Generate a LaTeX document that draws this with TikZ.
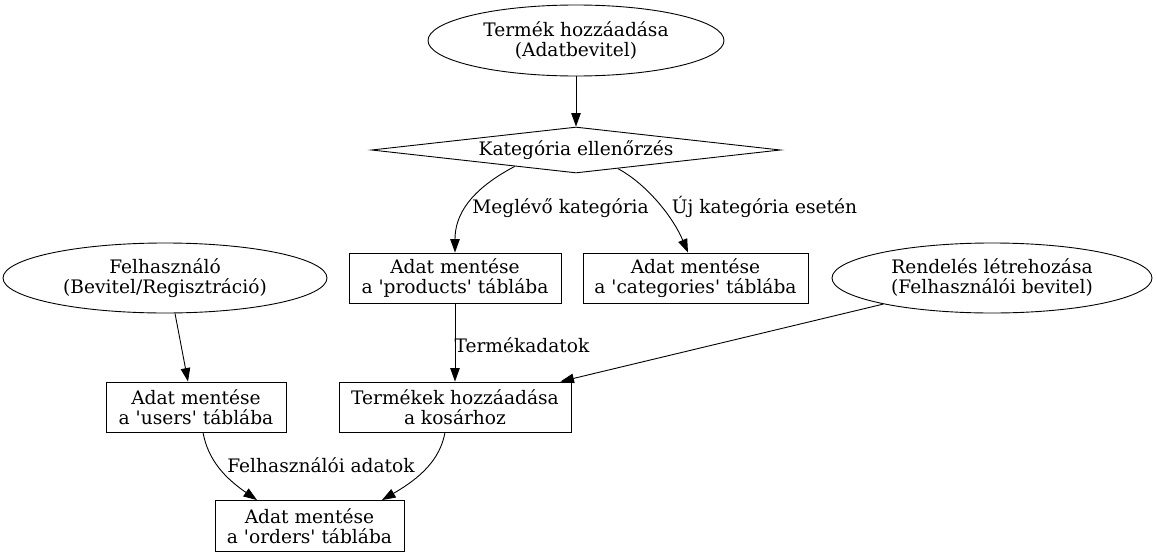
\documentclass[tikz,border=0pt]{standalone}
\usepackage{fontspec}
\setmainfont{DejaVu Serif}
\usetikzlibrary{shapes.geometric,arrows.meta}
\newcommand{\sq}{\textquotesingle}
\begin{document}
\begin{tikzpicture}[x=1pt,y=-1pt,
  txt/.style={font=\fontsize{18.6}{20}\selectfont, align=center, inner sep=0pt},
  ell/.style={txt, draw, ellipse, line width=0.9pt},
  box/.style={txt, draw, rectangle, line width=0.9pt},
  dec/.style={txt, draw, diamond, aspect=9.27, line width=0.9pt},
  lbl/.style={txt, anchor=base},
  arr/.style={-{Triangle[length=13.5pt,width=9.5pt]}, line width=0.9pt}
]
\useasboundingbox (0,0) rectangle (1157,557);

\node[ell, minimum width=296pt, minimum height=71pt] (top) at (576,40.5) {Termék hozzáadása\\(Adatbevitel)};
\node[dec, minimum width=409pt, minimum height=46pt] (dia) at (576,150) {Kategória ellenőrzés};
\node[box, minimum width=212pt, minimum height=50pt] (prod) at (455,278) {Adat mentése\\a \sq products\sq{} táblába};
\node[box, minimum width=225pt, minimum height=50pt] (cat) at (695.5,278) {Adat mentése\\a \sq categories\sq{} táblába};
\node[ell, minimum width=324pt, minimum height=70pt] (user) at (165,278) {Felhasználó\\(Bevitel/Regisztráció)};
\node[ell, minimum width=320pt, minimum height=70pt] (rend) at (992,278) {Rendelés létrehozása\\(Felhasználói bevitel)};
\node[box, minimum width=180pt, minimum height=50pt] (users) at (196,407) {Adat mentése\\a \sq users\sq{} táblába};
\node[box, minimum width=232pt, minimum height=50pt] (kosar) at (455,407) {Termékek hozzáadása\\a kosárhoz};
\node[box, minimum width=189pt, minimum height=51pt] (orders) at (309.5,526) {Adat mentése\\a \sq orders\sq{} táblába};

\node[lbl] (l1) at (560.5,213) {Meglévő kategória};
\node[lbl] (l2) at (764.5,213) {Új kategória esetén};
\node[lbl] (l3) at (522,352) {Termékadatok};
\node[lbl] (l4) at (321,472) {Felhasználói adatok};

\draw[arr] (top) -- (dia);
\draw[arr] (dia.195) .. controls (470,190) and (455,215) .. (prod.north);
\draw[arr] (dia.336) .. controls (645,183) and (672,215) .. ([xshift=-7.5pt]cat.north);
\draw[arr] ([xshift=10pt]user.south) -- ([xshift=-8pt]users.north);
\draw[arr] (prod) -- (kosar);
\draw[arr] (rend) -- ([xshift=-11pt]kosar.north east);
\draw[arr] ([xshift=7pt]users.south) .. controls (208,460) and (225,478) .. ([xshift=-52.5pt]orders.north);
\draw[arr] ([xshift=-10pt]kosar.south) .. controls (440,460) and (420,478) .. ([xshift=72.5pt]orders.north);
\end{tikzpicture}
\end{document}
